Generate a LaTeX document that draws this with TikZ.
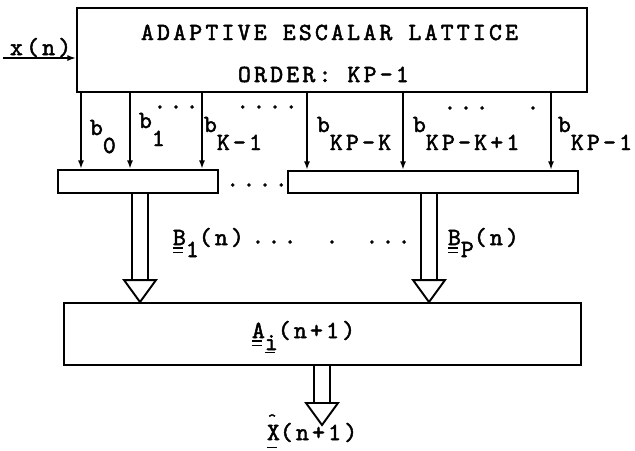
\documentclass[tikz,border=0pt]{standalone}
\usepackage{fontspec}
\setmainfont{lmmono10-regular.otf}[LetterSpace=13,FakeBold=2]
\usetikzlibrary{arrows.meta,calc}

\newcommand{\bsub}[2]{#1\raisebox{-0.36cm}{#2}}
\newcommand{\vsub}[2]{#1\raisebox{-0.24cm}{#2}}
% single and double underline, hat
\newcommand{\sul}[2][-0.1cm]{\setbox0\hbox{#2}\rlap{\rule[#1]{0.8\wd0}{0.7pt}}\box0}
\newcommand{\dul}[1]{\setbox0\hbox{#1}\rlap{\rule[-0.07cm]{0.8\wd0}{0.7pt}}\rlap{\rule[-0.16cm]{0.8\wd0}{0.7pt}}\box0}
\newcommand{\hatx}[1]{\setbox0\hbox{#1}\rlap{\hbox to0.8\wd0{\hss\raisebox{0.3cm}{\scalebox{0.7}{\textasciicircum}}\hss}}\box0}
% wide arrow: from node #1 down to #2 at x=#3
\newcommand{\fatarr}[3]{%
  \draw[fat] ($(#1.south -| #3,0)+(-8,0)$) -- ($(#2 -| #3,0)+(-8,-22)$)
    ($(#1.south -| #3,0)+(8,0)$) -- ($(#2 -| #3,0)+(8,-22)$);
  \draw[fat] ($(#2 -| #3,0)+(-16,-22)$) -- (#2 -| #3,0) -- ($(#2 -| #3,0)+(16,-22)$) -- cycle;
}

\begin{document}
\begin{tikzpicture}[x=0.02cm,y=-0.02cm,line width=1.1pt,
  box/.style={draw,inner sep=0pt},
  lbl/.style={inner sep=0pt,anchor=base west,font=\fontsize{14}{16}\selectfont},
  dots/.style={inner sep=0pt,font=\fontsize{14}{16}\selectfont},
  arr/.style={-{Latex[length=5pt,width=3.5pt]}},
  fat/.style={line width=1.1pt,line join=miter}]
\useasboundingbox (0,0) rectangle (635,450);

% boxes
\node[box,minimum width=10.2cm,minimum height=1.68cm](lattice) at (332,50){};
\node[box,minimum width=3.2cm,minimum height=0.46cm](grp1) at (138,181.5){};
\node[box,minimum width=5.8cm,minimum height=0.44cm](grp2) at (433,182){};
\node[box,minimum width=10.34cm,minimum height=1.24cm](upd) at (322.5,334){};

% texts
\node[lbl](title1) at (140,40){ADAPTIVE ESCALAR LATTICE};
\node[lbl](title2) at (237,82){ORDER: KP-1};
\node[lbl](xn) at (9,55){x(n)};

% input
\coordinate (xin) at (3,58);
\draw[arr] (xin) -- (lattice.west |- xin);

% coefficient taps
\foreach \x/\g in {81/grp1,130/grp1,202/grp1,307/grp2,403/grp2,551/grp2}
  \draw[arr] (lattice.south -| \x,0) -- (\g.north -| \x,0);

\node[lbl](b0) at (89,135){\bsub{b}{0}};
\node[lbl](b1) at (138,128){\bsub{b}{1}};
\node[lbl](bk) at (203,132){\bsub{b}{K-1}};
\node[lbl](bkpk) at (316,132){\bsub{b}{KP-K}};
\node[lbl](bkpk1) at (412,132){\bsub{b}{KP-K+1}};
\node[lbl](bkp) at (557,132){\bsub{b}{KP-1}};

\node[dots](d1) at (176,107){...};
\node[dots](d2) at (267,107){....};
\node[dots](d3) at (466,108){...};
\node[dots](d4) at (533,108){.};
\node[dots](d5) at (257,185){....};

% vector arrows
\fatarr{grp1}{upd.north}{140}
\fatarr{grp2}{upd.north}{429}
\coordinate (xout) at (322,425);
\fatarr{upd}{xout}{322}

\node[lbl](B1) at (172,245){\vsub{\dul{B}}{1}(n)};
\node[lbl](BP) at (447,245){\vsub{\dul{B}}{P}(n)};
\node[dots](d6) at (274,242){...};
\node[dots](d7) at (332,242){.};
\node[dots](d8) at (388,242){...};

\node[lbl](Ai) at (251,338){\vsub{\dul{A}}{\sul[-0.06cm]{i}}(n+1)};
\node[lbl](Xh) at (266,440){\sul[-0.16cm]{\hatx{X}}(n+1)};
\end{tikzpicture}
\end{document}
